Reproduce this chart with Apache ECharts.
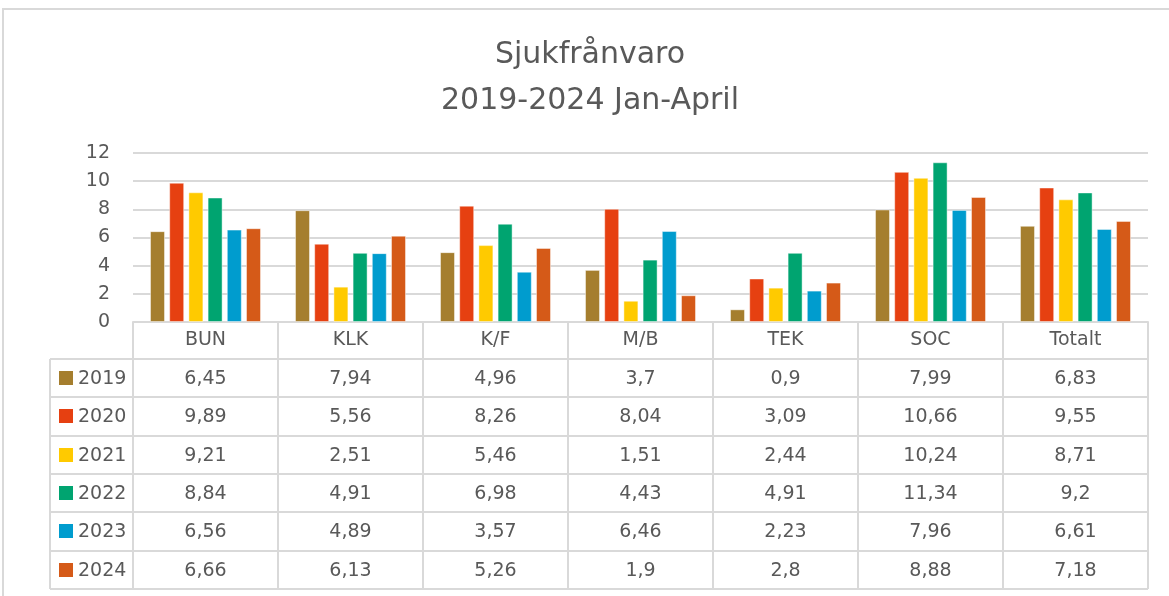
<!DOCTYPE html>
<html>
<head>
<meta charset="utf-8">
<script src="https://cdn.jsdelivr.net/npm/echarts@6/dist/echarts.min.js"></script>
<style>
html,body{margin:0;padding:0;background:#fff;}
#c{width:1169px;height:596px;}
</style>
</head>
<body>
<div id="c"></div>
<script>
// ---- data ----
const categories = ['BUN', 'KLK', 'K/F', 'M/B', 'TEK', 'SOC', 'Totalt'];
const years = ['2019', '2020', '2021', '2022', '2023', '2024'];
const v2019 = [6.45, 7.94, 4.96, 3.7, 0.9, 7.99, 6.83];
const v2020 = [9.89, 5.56, 8.26, 8.04, 3.09, 10.66, 9.55];
const v2021 = [9.21, 2.51, 5.46, 1.51, 2.44, 10.24, 8.71];
const v2022 = [8.84, 4.91, 6.98, 4.43, 4.91, 11.34, 9.2];
const v2023 = [6.56, 4.89, 3.57, 6.46, 2.23, 7.96, 6.61];
const v2024 = [6.66, 6.13, 5.26, 1.9, 2.8, 8.88, 7.18];
const yTicks = [0, 2, 4, 6, 8, 10, 12];
const titleLines = ['Sjukfrånvaro', '2019-2024 Jan-April'];

const seriesValues = [v2019, v2020, v2021, v2022, v2023, v2024];
const colors = ['#A57E2E', '#E64011', '#FFCA00', '#00A470', '#009CCE', '#D55A18'];

// ---- layout ----
const W = 1169, H = 596;
const gridLeft = 133, gridRight = 1148, gridTop = 153, gridBottom = 322;
const headerBottom = 359;
const rowH = 38.33;
const tableLeft = 50;
const tableBottom = headerBottom + rowH * years.length;
const colW = (gridRight - gridLeft) / categories.length;
const font = '"DejaVu Sans", sans-serif';
const txt = '#595959';
const lineC = '#D9D9D9';

const chart = echarts.init(document.getElementById('c'), null, {renderer: 'canvas'});

const graphics = [];
// outer chart border
graphics.push({type: 'rect', shape: {x: 3, y: 9, width: 1300, height: 800}, style: {fill: 'none', stroke: lineC, lineWidth: 2}, silent: true, z: 0});
// table horizontal lines
for (let r = 0; r <= years.length; r++) {
  const y = Math.round(headerBottom + rowH * r);
  graphics.push({type: 'line', shape: {x1: tableLeft, y1: y, x2: gridRight, y2: y}, style: {stroke: lineC, lineWidth: 2}, silent: true, z: 1});
}
// table left border
graphics.push({type: 'line', shape: {x1: tableLeft, y1: headerBottom, x2: tableLeft, y2: Math.round(tableBottom)}, style: {stroke: lineC, lineWidth: 2}, silent: true, z: 1});
// rows
years.forEach((yr, r) => {
  const cy = headerBottom + rowH * (r + 0.5);
  graphics.push({type: 'rect', shape: {x: 59, y: Math.round(cy - 7), width: 14, height: 14}, style: {fill: colors[r]}, silent: true, z: 2});
  graphics.push({type: 'text', x: 78, y: cy + 1, style: {text: yr, font: '19px ' + font, fill: txt, textAlign: 'left', textVerticalAlign: 'middle'}, silent: true, z: 2});
  seriesValues[r].forEach((v, c) => {
    graphics.push({type: 'text', x: gridLeft + colW * (c + 0.5), y: cy + 1,
      style: {text: String(v).replace('.', ','), font: '19px ' + font, fill: txt, textAlign: 'center', textVerticalAlign: 'middle'}, silent: true, z: 2});
  });
});
// title
titleLines.forEach((t, i) => {
  graphics.push({type: 'text', x: 590, y: 55 + i * 46, style: {text: t, font: '30px ' + font, fill: txt, textAlign: 'center', textVerticalAlign: 'middle'}, silent: true, z: 2});
});

const option = {
  backgroundColor: '#fff',
  animation: false,
  textStyle: {fontFamily: font},
  grid: {left: gridLeft, right: W - gridRight, top: gridTop, bottom: H - gridBottom, containLabel: false},
  xAxis: {
    type: 'category',
    data: categories,
    boundaryGap: true,
    axisLine: {show: true, lineStyle: {color: lineC, width: 2}},
    axisTick: {show: true, length: Math.round(tableBottom - gridBottom), lineStyle: {color: lineC, width: 2}},
    axisLabel: {color: txt, fontSize: 19, fontFamily: font, margin: 9},
    splitLine: {show: false}
  },
  yAxis: {
    type: 'value',
    min: yTicks[0],
    max: yTicks[yTicks.length - 1],
    interval: yTicks[1] - yTicks[0],
    axisLine: {show: false},
    axisTick: {show: false},
    axisLabel: {color: txt, fontSize: 19, fontFamily: font, margin: 23},
    splitLine: {show: true, lineStyle: {color: lineC, width: 2}}
  },
  series: years.map((yr, i) => ({
    name: yr,
    type: 'bar',
    data: seriesValues[i],
    barWidth: 15,
    barGap: '28%',
    itemStyle: {color: colors[i], borderColor: 'rgba(255,255,255,0.45)', borderWidth: 1},
    z: 3
  })),
  graphic: graphics
};
chart.setOption(option);
</script>
</body>
</html>
